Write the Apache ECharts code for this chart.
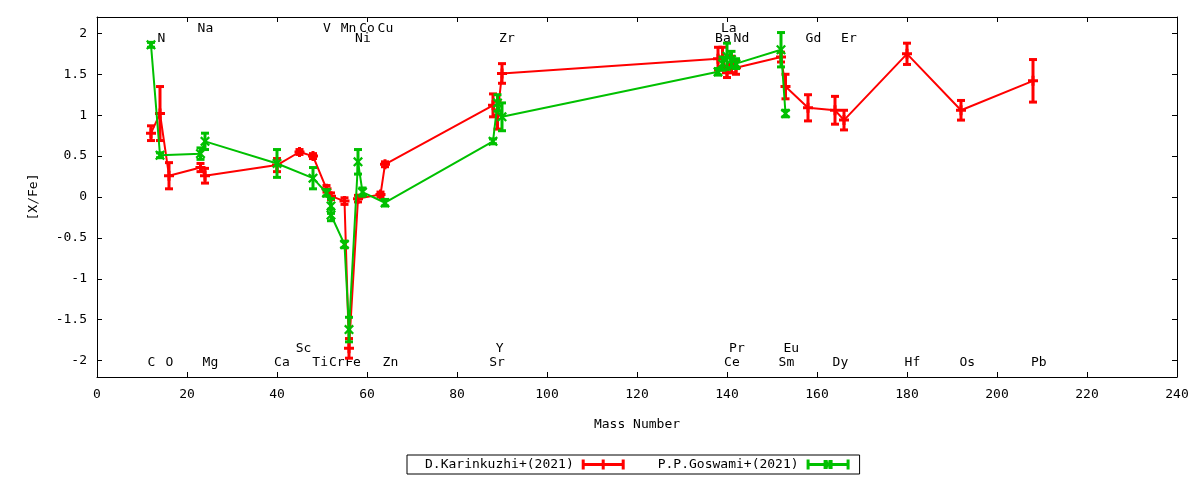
<!DOCTYPE html>
<html><head><meta charset="utf-8">
<script src="https://cdn.jsdelivr.net/npm/echarts@6/dist/echarts.min.js"></script>
<style>html,body{margin:0;padding:0;background:#fff}#c{width:1200px;height:480px}</style>
</head><body><div id="c"></div>
<script>
// ---- data ----
const redName = 'D.Karinkuzhi+(2021)';
const redMass = [12, 14, 16, 23, 24, 40, 45, 48, 51, 52, 55, 56, 58, 63, 64, 88, 89, 90, 138, 139, 140, 141, 142, 152, 153, 158, 164, 166, 180, 192, 208];
const redVal  = [0.78, 1.02, 0.26, 0.36, 0.26, 0.39, 0.55, 0.50, 0.10, 0.01, -0.05, -1.85, -0.02, 0.03, 0.40, 1.12, 1.00, 1.51, 1.69, 1.71, 1.52, 1.62, 1.58, 1.71, 1.35, 1.09, 1.06, 0.94, 1.75, 1.06, 1.42];
const redErr  = [0.09, 0.33, 0.16, 0.05, 0.09, 0.08, 0.03, 0.03, 0.04, 0.04, 0.04, 0.12, 0.04, 0.03, 0.03, 0.14, 0.17, 0.12, 0.14, 0.12, 0.06, 0.10, 0.08, 0.06, 0.15, 0.16, 0.17, 0.12, 0.13, 0.12, 0.26];

const greenName = 'P.P.Goswami+(2021)';
const greenMass = [12, 14, 23, 24, 40, 48, 51, 52, 52, 55, 56, 58, 59, 64, 88, 89, 90, 138, 139, 140, 141, 142, 152, 153];
const greenVal  = [1.86, 0.51, 0.53, 0.68, 0.41, 0.23, 0.05, -0.11, -0.22, -0.58, -1.62, 0.43, 0.06, -0.07, 0.68, 1.15, 0.98, 1.53, 1.63, 1.72, 1.68, 1.63, 1.80, 1.02];
const greenErr  = [0.03, 0.03, 0.07, 0.10, 0.17, 0.13, 0.04, 0.09, 0.07, 0.04, 0.15, 0.15, 0.05, 0.04, 0.03, 0.10, 0.17, 0.04, 0.08, 0.16, 0.10, 0.06, 0.21, 0.04];

// element annotations: text, x (mass axis), row (0,1 = top rows; 2,3 = bottom rows)
const labelText = ['Na','V','Mn','Co','Cu','La', 'N','Ni','Zr','Ba','Nd','Gd','Er', 'Sc','Y','Pr','Eu', 'C','O','Mg','Ca','Ti','Cr','Fe','Zn','Sr','Ce','Sm','Dy','Hf','Os','Pb'];
const labelMass = [24.1,51.1,55.9,60.0,64.1,140.4, 14.3,59.1,91.1,139.1,143.2,159.2,167.1, 45.9,89.5,142.2,154.3, 12.1,16.1,25.2,41.1,49.6,53.3,56.9,65.2,88.9,141.1,153.2,165.2,181.2,193.4,209.3];
const labelRow  = [0,0,0,0,0,0, 1,1,1,1,1,1,1, 2,2,2,2, 3,3,3,3,3,3,3,3,3,3,3,3,3,3,3];

const yTicks = [-2, -1.5, -1, -0.5, 0, 0.5, 1, 1.5, 2];

// ---- styling ----
const FONT = 'DejaVu Sans Mono';
const RED = '#ff0000', GREEN = '#00c000';
const rowY = [2.055, 1.935, -1.853, -2.024];
const plusPath = 'path://M3.5,0H6.5V3.5H10V6.5H6.5V10H3.5V6.5H0V3.5H3.5Z';
const crossPath = 'path://M0,1.6L1.6,0L5,3.4L8.4,0L10,1.6L6.6,5L10,8.4L8.4,10L5,6.6L1.6,10L0,8.4L3.4,5Z';
const legRed = 'path://M0,3.5H43V6.5H0Z M0,0H3V10H0Z M40,0H43V10H40Z M20,0H23V10H20Z';
const legGreen = 'path://M0,3.5H43V6.5H0Z M0,0H3V10H0Z M40,0H43V10H40Z M17,0.5H21L21.5,3.5H21.5L22,0.5H26V9.5H22L21.5,6.5L21,9.5H17Z';

function errSeries(name, mass, val, err, color, z) {
  return {
    type: 'custom', name: name + ' err', z: z, silent: true, animation: false,
    data: mass.map((m, i) => [m, val[i], err[i]]),
    encode: { x: 0, y: 1 },
    renderItem: function (params, api) {
      const x = api.value(0), y = api.value(1), e = api.value(2);
      const p1 = api.coord([x, y + e]), p2 = api.coord([x, y - e]);
      const w = 4;
      const st = { stroke: color, lineWidth: 3 };
      return { type: 'group', children: [
        { type: 'line', shape: { x1: p1[0], y1: p1[1], x2: p2[0], y2: p2[1] }, style: st },
        { type: 'line', shape: { x1: p1[0] - w, y1: p1[1], x2: p1[0] + w, y2: p1[1] }, style: st },
        { type: 'line', shape: { x1: p2[0] - w, y1: p2[1], x2: p2[0] + w, y2: p2[1] }, style: st }
      ]};
    }
  };
}
function lineSeries(name, mass, val, color, sym, z) {
  return {
    type: 'line', name: name, z: z, animation: false, silent: true,
    data: mass.map((m, i) => [m, val[i]]),
    symbol: sym, symbolSize: 10, showAllSymbol: true,
    itemStyle: { color: color }, lineStyle: { color: color, width: 2 },
    emphasis: { disabled: true }
  };
}

const axisCommon = {
  axisLine: { show: true, onZero: false, lineStyle: { color: '#000', width: 1 } },
  axisTick: { show: true, inside: true, length: 5, lineStyle: { color: '#000' } },
  splitLine: { show: false }
};

const option = {
  backgroundColor: '#fff',
  animation: false,
  grid: { left: 97, right: 23, top: 17, bottom: 103, show: false },
  xAxis: [
    Object.assign({}, axisCommon, {
      type: 'value', min: 0, max: 240, interval: 20, position: 'bottom',
      axisLabel: { color: '#000', fontFamily: FONT, fontSize: 13, margin: 11 },
      name: 'Mass Number', nameLocation: 'middle', nameGap: 41,
      nameTextStyle: { color: '#000', fontFamily: FONT, fontSize: 13 }
    }),
    Object.assign({}, axisCommon, {
      type: 'value', min: 0, max: 240, interval: 20, position: 'top',
      axisLabel: { show: false }
    })
  ],
  yAxis: [
    Object.assign({}, axisCommon, {
      type: 'value', min: -2.2, max: 2.2, position: 'left',
      axisTick: { show: true, inside: true, length: 5, lineStyle: { color: '#000' }, customValues: yTicks },
      axisLabel: { color: '#000', fontFamily: FONT, fontSize: 13, margin: 10, customValues: yTicks },
      name: '[X/Fe]', nameLocation: 'middle', nameGap: 57, nameRotate: 90,
      nameTextStyle: { color: '#000', fontFamily: FONT, fontSize: 13 }
    }),
    Object.assign({}, axisCommon, {
      type: 'value', min: -2.2, max: 2.2, position: 'right',
      axisTick: { show: true, inside: true, length: 5, lineStyle: { color: '#000' }, customValues: yTicks },
      axisLabel: { show: false }
    })
  ],
  legend: {
    left: 407, top: 455,
    data: [ { name: redName, icon: legRed }, { name: greenName, icon: legGreen } ],
    align: 'right', itemWidth: 43, itemHeight: 10, itemGap: 33,
    selectedMode: false,
    borderColor: '#000', borderWidth: 1, borderRadius: 0,
    padding: [3, 10, 3, 18],
    textStyle: { color: '#000', fontFamily: FONT, fontSize: 13, padding: [0, 3, 0, 0] }
  },
  series: [
    {
      type: 'custom', name: 'labels', z: 1, silent: true, animation: false,
      data: labelMass.map((m, i) => [m, rowY[labelRow[i]]]),
      encode: { x: 0, y: 1 },
      renderItem: function (params, api) {
        const p = api.coord([api.value(0), api.value(1)]);
        return { type: 'text', x: p[0], y: p[1], style: {
          text: labelText[params.dataIndex], fill: '#000', font: '13px "' + FONT + '"',
          align: 'center', verticalAlign: 'middle', textAlign: 'center', textVerticalAlign: 'middle'
        }};
      }
    },
    errSeries(redName, redMass, redVal, redErr, RED, 2),
    lineSeries(redName, redMass, redVal, RED, plusPath, 3),
    errSeries(greenName, greenMass, greenVal, greenErr, GREEN, 4),
    lineSeries(greenName, greenMass, greenVal, GREEN, crossPath, 5)
  ]
};

const chart = echarts.init(document.getElementById('c'), null, { renderer: 'canvas' });
chart.setOption(option);
</script>
</body></html>
